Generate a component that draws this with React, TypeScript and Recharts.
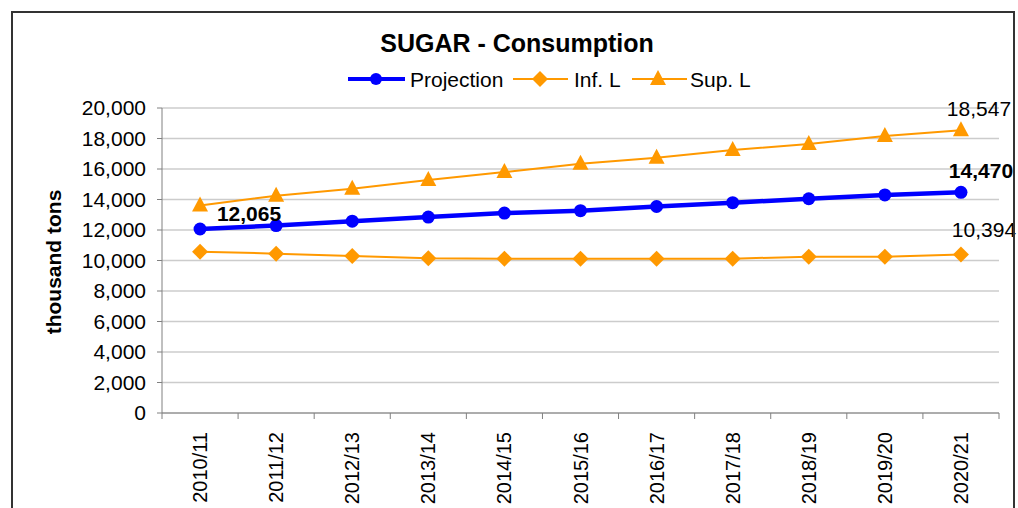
import { LineChart, Line, XAxis, YAxis, CartesianGrid, LabelList } from "recharts";

const seasons = [
  "2010/11", "2011/12", "2012/13", "2013/14", "2014/15", "2015/16",
  "2016/17", "2017/18", "2018/19", "2019/20", "2020/21",
];
const projection = [12065, 12290, 12580, 12850, 13110, 13270, 13540, 13790, 14050, 14300, 14470];
const infL = [10580, 10450, 10300, 10150, 10120, 10120, 10120, 10120, 10250, 10250, 10394];
const supL = [13600, 14250, 14700, 15280, 15800, 16350, 16730, 17250, 17640, 18160, 18547];
const yTicks = [0, 2000, 4000, 6000, 8000, 10000, 12000, 14000, 16000, 18000, 20000];

const data = seasons.map((season, i) => ({
  season,
  projection: projection[i],
  infL: infL[i],
  supL: supL[i],
}));

const BLUE = "#0000FF";
const ORANGE = "#FF9900";
const FONT = "'Liberation Sans', Arial, sans-serif";
const fmt = (v: number) => v.toLocaleString("en-US");

function CircleDot(props: any) {
  const { cx, cy, index } = props;
  return <circle key={`c${index}`} cx={cx} cy={cy} r={6.5} fill={BLUE} />;
}

function DiamondDot(props: any) {
  const { cx, cy, index } = props;
  const s = 8;
  return (
    <path
      key={`d${index}`}
      d={`M${cx},${cy - s}L${cx + s},${cy}L${cx},${cy + s}L${cx - s},${cy}Z`}
      fill={ORANGE}
    />
  );
}

function TriangleDot(props: any) {
  const { cx, cy, index } = props;
  return (
    <path
      key={`t${index}`}
      d={`M${cx},${cy - 9}L${cx + 8},${cy + 6}L${cx - 8},${cy + 6}Z`}
      fill={ORANGE}
    />
  );
}

// only a few points carry a value label
function pointLabel(which: number, dx: number, dy: number, bold: boolean) {
  return (props: any) => {
    const { x, y, value, index } = props;
    if (index !== which) return null;
    return (
      <text
        x={x + dx}
        y={y + dy}
        textAnchor="middle"
        dominantBaseline="central"
        fontSize={21}
        fontWeight={bold ? "bold" : "normal"}
        fill="#000"
      >
        {fmt(value)}
      </text>
    );
  };
}

function SeasonTick(props: any) {
  const { x, y, payload, index, width, visibleTicksCount } = props;
  const half = width / visibleTicksCount / 2;
  const axisY = y - 19;
  return (
    <g>
      <line x1={x - half} x2={x - half} y1={axisY} y2={axisY + 6} stroke="#808080" />
      {index === visibleTicksCount - 1 && (
        <line x1={x + half} x2={x + half} y1={axisY} y2={axisY + 6} stroke="#808080" />
      )}
      <text
        x={x}
        y={y}
        transform={`rotate(-90 ${x} ${y})`}
        textAnchor="end"
        dominantBaseline="central"
        fontSize={20}
        fill="#000"
      >
        {payload.value}
      </text>
    </g>
  );
}

export default function App() {
  return (
    <div
      style={{
        position: "fixed",
        left: 0,
        top: 0,
        width: 1018,
        height: 508,
        overflow: "hidden",
        background: "#fff",
        fontFamily: FONT,
      }}
    >
      <LineChart
        width={1018}
        height={508}
        data={data}
        margin={{ top: 108, right: 19, bottom: 0, left: 0 }}
        style={{ fontFamily: FONT }}
      >
        <CartesianGrid vertical={false} stroke="#cccccc" strokeWidth={1.5} />
        <XAxis
          dataKey="season"
          scale="band"
          height={95}
          tickLine={false}
          tickSize={0}
          tickMargin={19}
          interval={0}
          axisLine={{ stroke: "#808080" }}
          tick={<SeasonTick />}
        />
        <YAxis
          width={162}
          domain={[0, 20000]}
          ticks={yTicks}
          interval={0}
          tickFormatter={fmt}
          tickSize={5}
          tickMargin={11}
          axisLine={{ stroke: "#808080" }}
          tickLine={{ stroke: "#808080" }}
          tick={{ fill: "#000", fontSize: 21 }}
        />
        <Line
          dataKey="infL"
          stroke={ORANGE}
          strokeWidth={2}
          dot={DiamondDot}
          isAnimationActive={false}
        >
          <LabelList dataKey="infL" content={pointLabel(10, 23, -25, false)} />
        </Line>
        <Line
          dataKey="supL"
          stroke={ORANGE}
          strokeWidth={2}
          dot={TriangleDot}
          isAnimationActive={false}
        >
          <LabelList dataKey="supL" content={pointLabel(10, 18, -22, false)} />
        </Line>
        <Line
          dataKey="projection"
          stroke={BLUE}
          strokeWidth={4.5}
          dot={CircleDot}
          isAnimationActive={false}
        >
          <LabelList dataKey="projection" content={pointLabel(0, 49, -16, true)} />
          <LabelList dataKey="projection" content={pointLabel(10, 20, -22, true)} />
        </Line>
      </LineChart>

      <svg
        width={1018}
        height={508}
        style={{ position: "absolute", left: 0, top: 0, pointerEvents: "none" }}
      >
        <rect x={12} y={12} width={1002} height={520} fill="none" stroke="#333" strokeWidth={2} />
        <text x={517} y={43} textAnchor="middle" dominantBaseline="central" fontSize={25} fontWeight="bold" fill="#000">
          SUGAR - Consumption
        </text>
        <text
          x={53}
          y={262}
          transform="rotate(-90 53 262)"
          textAnchor="middle"
          dominantBaseline="central"
          fontSize={21}
          fontWeight="bold"
          fill="#000"
        >
          thousand tons
        </text>

        <g fontSize={21} fill="#000">
          <line x1={348} x2={405} y1={79} y2={79} stroke={BLUE} strokeWidth={4} />
          <circle cx={376} cy={79} r={6} fill={BLUE} />
          <text x={410} y={79} dominantBaseline="central">Projection</text>

          <line x1={513} x2={568} y1={79} y2={79} stroke={ORANGE} strokeWidth={2} />
          <path d="M540,71L548,79L540,87L532,79Z" fill={ORANGE} />
          <text x={574} y={79} dominantBaseline="central">Inf. L</text>

          <line x1={632} x2={687} y1={79} y2={79} stroke={ORANGE} strokeWidth={2} />
          <path d="M658,70L666,85L650,85Z" fill={ORANGE} />
          <text x={690} y={79} dominantBaseline="central">Sup. L</text>
        </g>
      </svg>
    </div>
  );
}
